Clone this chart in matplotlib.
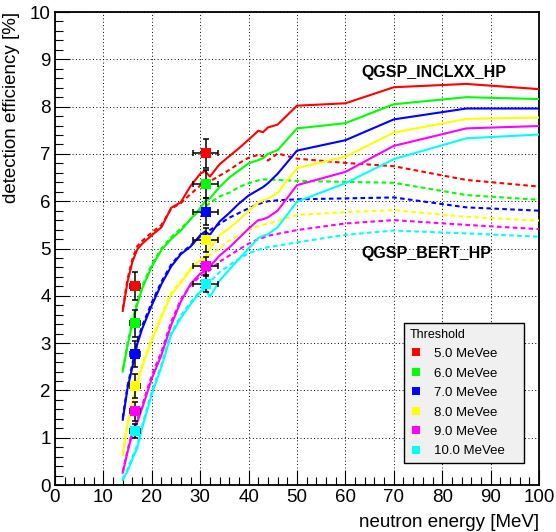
import numpy as np
import matplotlib
matplotlib.use('Agg')
import matplotlib.pyplot as plt
from matplotlib.lines import Line2D

plt.rcParams['font.family'] = ['Liberation Sans', 'DejaVu Sans']

# neutron energy grid [MeV]
energy = [14, 15, 16, 17, 18, 20, 22, 24, 26, 28, 30, 31, 32, 34, 36, 38, 40,
          42, 43, 44, 46, 50, 60, 70, 85, 100]

# QGSP_INCLXX_HP (solid)
incl_5 = [3.68, 4.30, 4.72, 4.98, 5.10, 5.28, 5.45, 5.86, 5.98, 6.32, 6.58, 6.64, 6.52,
          6.78, 6.95, 7.12, 7.30, 7.49, 7.46, 7.56, 7.62, 8.02, 8.07, 8.41, 8.48, 8.37]
incl_6 = [2.40, 2.95, 3.42, 3.82, 4.15, 4.62, 4.97, 5.20, 5.38, 5.62, 5.85, 6.00, 6.06,
          6.30, 6.50, 6.65, 6.80, 6.87, 6.91, 7.00, 7.08, 7.54, 7.65, 8.05, 8.20, 8.16]
incl_7 = [1.38, 2.05, 2.50, 2.98, 3.30, 3.80, 4.25, 4.62, 4.88, 5.04, 5.28, 5.36, 5.29,
          5.57, 5.75, 5.95, 6.12, 6.24, 6.30, 6.38, 6.58, 7.07, 7.29, 7.73, 7.96, 7.96]
incl_8 = [0.63, 1.28, 1.72, 2.15, 2.50, 3.05, 3.55, 4.02, 4.28, 4.55, 4.76, 4.80, 5.00,
          5.28, 5.43, 5.60, 5.80, 5.97, 6.02, 6.05, 6.18, 6.70, 6.94, 7.45, 7.74, 7.77]
incl_9 = [0.26, 0.70, 1.10, 1.33, 1.62, 2.25, 2.75, 3.38, 3.88, 4.25, 4.47, 4.52, 4.62,
          4.85, 5.02, 5.22, 5.42, 5.60, 5.62, 5.66, 5.80, 6.34, 6.62, 7.17, 7.54, 7.59]
incl_10 = [0.11, 0.30, 0.55, 0.78, 1.20, 1.92, 2.50, 3.18, 3.53, 3.82, 4.08, 4.16, 3.98,
           4.32, 4.55, 4.78, 5.00, 5.22, 5.27, 5.30, 5.45, 5.99, 6.38, 6.89, 7.33, 7.41]

# QGSP_BERT_HP (dashed)
bert_5 = [3.72, 4.36, 4.78, 5.05, 5.16, 5.34, 5.50, 5.84, 5.96, 6.15, 6.33, 6.38, 6.42,
          6.54, 6.66, 6.80, 6.92, 6.98, 6.95, 6.86, 7.01, 6.90, 6.81, 6.74, 6.45, 6.31]
bert_6 = [2.44, 3.00, 3.48, 3.88, 4.20, 4.67, 5.00, 5.24, 5.42, 5.62, 5.82, 5.88, 5.96,
          6.10, 6.18, 6.30, 6.38, 6.44, 6.46, 6.46, 6.45, 6.43, 6.41, 6.39, 6.13, 6.03]
bert_7 = [1.42, 2.10, 2.56, 3.04, 3.36, 3.86, 4.30, 4.66, 4.90, 5.06, 5.25, 5.30, 5.39,
          5.52, 5.65, 5.75, 5.85, 5.94, 5.97, 6.00, 6.02, 6.04, 6.06, 6.08, 5.87, 5.80]
bert_8 = [0.66, 1.32, 1.77, 2.20, 2.56, 3.10, 3.60, 4.06, 4.31, 4.58, 4.75, 4.78, 4.86,
          5.00, 5.17, 5.28, 5.40, 5.47, 5.50, 5.53, 5.58, 5.71, 5.77, 5.81, 5.67, 5.59]
bert_9 = [0.28, 0.74, 1.14, 1.38, 1.68, 2.32, 2.82, 3.45, 3.92, 4.22, 4.42, 4.46, 4.55,
          4.72, 4.85, 4.98, 5.10, 5.20, 5.23, 5.27, 5.31, 5.39, 5.53, 5.60, 5.50, 5.41]
bert_10 = [0.13, 0.34, 0.60, 0.84, 1.26, 1.98, 2.55, 3.22, 3.58, 3.86, 4.10, 4.14, 4.30,
           4.50, 4.65, 4.78, 4.90, 4.97, 5.00, 5.03, 5.06, 5.13, 5.29, 5.38, 5.32, 5.25]

# measured points
meas_energy = [16.5, 31.1]
meas_energy_err = [1.0, 2.6]
meas_eff = {
    5: [4.21, 7.01],
    6: [3.42, 6.36],
    7: [2.77, 5.78],
    8: [2.10, 5.18],
    9: [1.56, 4.62],
    10: [1.14, 4.26],
}
meas_eff_err = {
    5: [0.30, 0.30],
    6: [0.28, 0.30],
    7: [0.27, 0.28],
    8: [0.25, 0.25],
    9: [0.20, 0.20],
    10: [0.15, 0.18],
}

thresholds = [5, 6, 7, 8, 9, 10]
threshold_labels = ['5.0 MeVee', '6.0 MeVee', '7.0 MeVee', '8.0 MeVee', '9.0 MeVee', '10.0 MeVee']
colors = ['#ff0000', '#00ff00', '#0000ff', '#ffff00', '#ff00ff', '#00ffff']
incl = [incl_5, incl_6, incl_7, incl_8, incl_9, incl_10]
bert = [bert_5, bert_6, bert_7, bert_8, bert_9, bert_10]

fig = plt.figure(figsize=(5.56, 5.32), dpi=100)
ax = fig.add_axes([0.0989, 0.0883, 0.8705, 0.8891])

for i in range(len(thresholds)):
    ax.plot(energy, incl[i], '-', color=colors[i], lw=1.5, zorder=3)
    ax.plot(energy, bert[i], color=colors[i], lw=1.5, dashes=(2.2, 1.6), zorder=3)

for i, t in enumerate(thresholds):
    ax.errorbar(meas_energy, meas_eff[t], xerr=meas_energy_err, yerr=meas_eff_err[t],
                fmt='none', ecolor='black', elinewidth=1.1, capsize=2.2, capthick=1.1, zorder=4)
for i, t in enumerate(thresholds):
    ax.plot(meas_energy, meas_eff[t], 's', color=colors[i], markersize=6.5,
            markeredgewidth=0, zorder=5)

ax.text(63.4, 8.73, 'QGSP_INCLXX_HP', fontsize=11.5, fontweight='bold', va='center', ha='left')
ax.text(63.4, 4.90, 'QGSP_BERT_HP', fontsize=11.5, fontweight='bold', va='center', ha='left')

ax.set_xlim(0, 100)
ax.set_ylim(0, 10)
ax.set_xticks(np.arange(0, 101, 10))
ax.set_yticks(np.arange(0, 11, 1))
ax.set_xticks(np.arange(0, 101, 2), minor=True)
ax.set_yticks(np.arange(0, 10.01, 0.2), minor=True)
ax.tick_params(which='both', direction='in', top=False, right=False, labelsize=13.5, pad=3)
ax.tick_params(which='major', length=11, width=0.8)
ax.tick_params(which='minor', length=5.5, width=0.8)
ax.grid(True, which='major', color='black', linestyle=(0, (1, 2.5)), linewidth=0.7)
for s in ax.spines.values():
    s.set_linewidth(1.3)

ax.set_xlabel('neutron energy [MeV]', fontsize=13.5, loc='right')
ax.set_ylabel('detection efficiency [%]', fontsize=13.5, loc='top')
ax.xaxis.set_label_coords(1.0, -0.062)
ax.yaxis.set_label_coords(-0.072, 1.0)

handles = [Line2D([], [], marker='s', linestyle='none', color=c, markersize=6, markeredgewidth=0)
           for c in colors]
leg = ax.legend(handles, threshold_labels, title='Threshold', loc='upper left',
                bbox_to_anchor=(0.721, 0.048, 0.249, 0.294), mode='expand',
                fontsize=9.5, title_fontsize=9,
                alignment='left', frameon=True, fancybox=False, framealpha=1,
                facecolor='#f0f0f0', edgecolor='black', handlelength=1.0,
                handletextpad=0.9, labelspacing=0.55, borderpad=0.4, borderaxespad=0)
leg.get_frame().set_linewidth(1.0)
leg.set_zorder(10)

fig.savefig('out.png', dpi=100)
